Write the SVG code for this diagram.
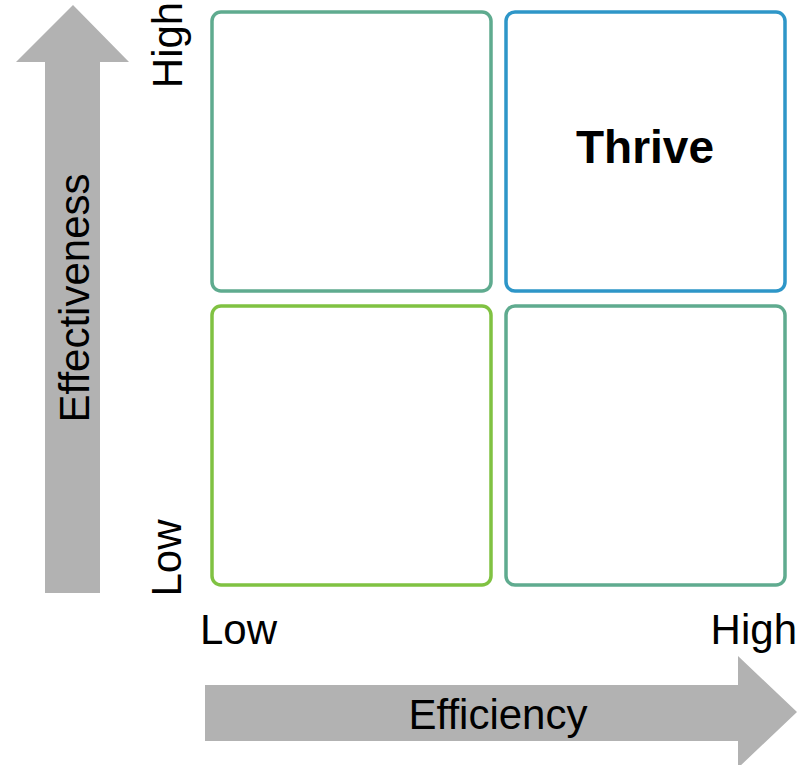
<svg xmlns="http://www.w3.org/2000/svg" width="804" height="765" viewBox="0 0 804 765">
<style>
.arrow{fill:#b2b2b2}
.box{fill:#ffffff;stroke-width:3.5}
.lbl{font-family:"Liberation Sans",Arial,sans-serif;font-size:42px;fill:#000}
.thr{font-family:"Liberation Sans",Arial,sans-serif;font-size:46px;font-weight:bold;fill:#000}
</style>
<rect width="804" height="765" fill="#ffffff"/>
<g id="axes">
<polygon id="y-arrow" class="arrow" points="73,5 129,62 100,62 100,593 45,593 45,62 16,62"/>
<polygon id="x-arrow" class="arrow" points="205,685 738,685 738,656 797,712 738,768 738,741 205,741"/>
</g>
<g id="q-tl"><rect class="box" x="212" y="12" width="279" height="279" rx="9" stroke="#5fab8f"/></g>
<g id="q-tr"><rect class="box" x="506" y="12" width="279" height="279" rx="9" stroke="#2e96c8"/>
<text class="thr" x="645" y="163" text-anchor="middle">Thrive</text></g>
<g id="q-bl"><rect class="box" x="212" y="306" width="279" height="279" rx="9" stroke="#80c242"/></g>
<g id="q-br"><rect class="box" x="506" y="306" width="279" height="279" rx="9" stroke="#5fab8f"/></g>
<g id="labels">
<text class="lbl" transform="translate(89,298) rotate(-90)" text-anchor="middle">Effectiveness</text>
<text class="lbl" transform="translate(182,45) rotate(-90)" text-anchor="middle">High</text>
<text class="lbl" transform="translate(181,558) rotate(-90)" text-anchor="middle">Low</text>
<text class="lbl" x="200" y="644">Low</text>
<text class="lbl" x="797" y="644" text-anchor="end">High</text>
<text class="lbl" x="498" y="729" text-anchor="middle">Efficiency</text>
</g>
</svg>
